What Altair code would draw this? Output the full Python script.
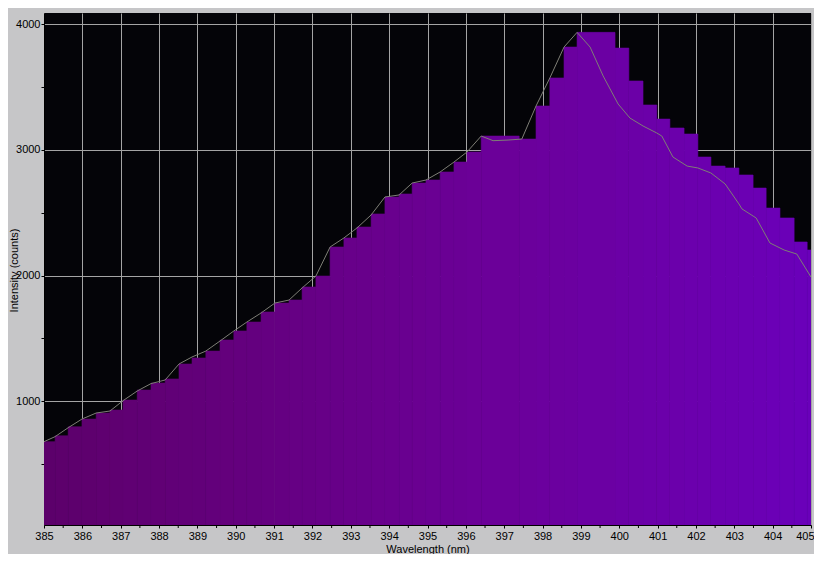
import altair as alt
import pandas as pd

# Bin edges of the histogram-like bars (nm) and their counts
bar_edges = [385.00, 385.29, 385.63, 385.99, 386.36, 386.72, 387.06, 387.43, 387.79, 388.16,
             388.52, 388.86, 389.22, 389.59, 389.95, 390.29, 390.66, 391.02, 391.39, 391.73,
             392.09, 392.46, 392.82, 393.16, 393.53, 393.89, 394.26, 394.60, 394.96, 395.33,
             395.69, 396.03, 396.40, 397.39, 397.83, 398.19, 398.56, 398.90, 399.89, 400.25,
             400.62, 400.98, 401.32, 401.69, 402.05, 402.39, 402.76, 403.12, 403.49, 403.83,
             404.19, 404.56, 404.90, 405.00]
bar_counts = [679, 726, 798, 859, 907, 931, 1010, 1090, 1146, 1178,
              1297, 1345, 1400, 1488, 1560, 1631, 1711, 1782, 1806, 1910,
              1997, 2228, 2300, 2387, 2491, 2626, 2650, 2737, 2761, 2825,
              2904, 2984, 3111, 3087, 3350, 3573, 3819, 3936, 3811, 3549,
              3358, 3246, 3175, 3127, 2944, 2872, 2857, 2801, 2697, 2538,
              2459, 2268, 2204]

# Thin trace line
line_wl = [385.00, 385.29, 385.63, 385.99, 386.36, 386.72, 387.06, 387.43, 387.79, 388.16,
           388.52, 388.86, 389.22, 389.59, 389.95, 390.29, 390.66, 391.02, 391.39, 391.73,
           392.09, 392.46, 392.82, 393.16, 393.53, 393.89, 394.26, 394.60, 394.96, 395.33,
           395.69, 396.03, 396.40, 396.71, 397.10, 397.46, 397.83, 398.19, 398.56, 398.90,
           399.24, 399.58, 399.97, 400.28, 400.62, 400.98, 401.11, 401.40, 401.77, 402.05,
           402.39, 402.76, 403.12, 403.20, 403.57, 403.93, 404.30, 404.63, 405.00]
line_counts = [679, 719, 790, 859, 907, 923, 1005, 1082, 1141, 1170,
               1297, 1353, 1400, 1480, 1560, 1631, 1703, 1782, 1806, 1902,
               1997, 2228, 2300, 2379, 2483, 2626, 2642, 2737, 2761, 2825,
               2904, 2984, 3111, 3074, 3079, 3087, 3350, 3573, 3819, 3936,
               3819, 3589, 3366, 3254, 3191, 3135, 3111, 2944, 2872, 2857,
               2817, 2730, 2571, 2531, 2459, 2260, 2204, 2172, 1989]

x_major = [385 + i for i in range(21)]
x_minor = [385.5 + i for i in range(20)]
y_ticks = [500 * i for i in range(1, 9)]

bars = pd.DataFrame({
    "wl": bar_edges[:-1],
    "wl_end": bar_edges[1:],
    "count": bar_counts,
})
bars["mid"] = (bars["wl"] + bars["wl_end"]) / 2
trace = pd.DataFrame({"wl": line_wl, "count": line_counts})
minor = pd.DataFrame({"wl": x_minor})

FONT = "Liberation Sans"
W, H = 767, 512

xscale = alt.Scale(domain=[385, 405], nice=False, zero=False)
yscale = alt.Scale(domain=[16, 4090], nice=False, zero=False)
cscale = alt.Scale(domain=[385, 395, 405], range=["#5c006a", "#6a0092", "#6a00ba"])

xaxis = alt.Axis(
    values=x_major,
    format="d",
    labelOverlap=False,
    labelFlush=False,
    labelAlign={"condition": {"test": "datum.value >= 405", "value": "right"}, "value": "center"},
    labelOffset={"condition": {"test": "datum.value >= 405", "value": 3}, "value": 0},
    title="Wavelength (nm)",
    grid=True,
    gridColor="#a4a4a4",
    gridWidth=1,
    tickSize=3,
    tickColor="#000000",
    domainColor="#000000",
    labelPadding=2,
    titlePadding=2,
)
yaxis = alt.Axis(
    values=y_ticks,
    labelExpr="datum.value % 1000 == 0 ? format(datum.value, 'd') : ''",
    labelOverlap=False,
    labelFlush=False,
    title="Intensity (counts)",
    grid=True,
    gridColor="#a4a4a4",
    gridWidth=1,
    gridOpacity={"condition": {"test": "datum.value % 1000 == 0", "value": 1}, "value": 0},
    tickSize=3,
    tickColor="#000000",
    domainColor="#000000",
    labelPadding=1,
    titleX=-25,
    titleY=257,
    titleAngle=270,
    titleBaseline="bottom",
    titleAlign="center",
)

bar_layer = alt.Chart(bars).mark_rect(strokeWidth=0.6, clip=True).encode(
    x=alt.X("wl:Q", scale=xscale, axis=xaxis, title="Wavelength (nm)"),
    x2="wl_end:Q",
    y=alt.Y("count:Q", scale=yscale, axis=yaxis, title="Intensity (counts)"),
    y2=alt.value(H),
    color=alt.Color("mid:Q", scale=cscale, legend=None),
    stroke=alt.Stroke("mid:Q", scale=cscale, legend=None),
)

line_layer = alt.Chart(trace).mark_line(color="#7e7e76", strokeWidth=1, clip=True).encode(
    x=alt.X("wl:Q", scale=xscale, axis=xaxis, title="Wavelength (nm)"),
    y=alt.Y("count:Q", scale=yscale, axis=yaxis, title="Intensity (counts)"),
)

# minor ticks below the x axis at the half-nanometre positions
minor_layer = alt.Chart(minor).mark_rule(color="#000000", strokeWidth=1).encode(
    x=alt.X("wl:Q", scale=xscale, axis=xaxis, title="Wavelength (nm)"),
    y=alt.value(H),
    y2=alt.value(H + 3),
)

chart = alt.layer(bar_layer, line_layer, minor_layer).properties(
    width=W,
    height=H,
    autosize=alt.AutoSizeParams(type="none"),
    padding={"left": 36, "top": 5, "right": 3, "bottom": 29},
    background="#c6c6c8",
).configure_view(
    fill="#040408",
    strokeWidth=0,
).configure_axis(
    labelFont=FONT,
    labelFontSize=11,
    labelColor="#000000",
    titleFont=FONT,
    titleFontSize=11,
    titleFontWeight="normal",
    titleColor="#000000",
)

chart.save("out.html", embed_options={"renderer": "svg", "actions": False})
